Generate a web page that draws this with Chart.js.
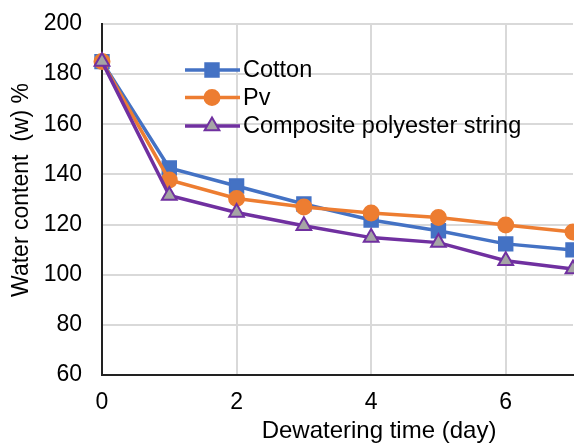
<!DOCTYPE html>
<html><head><meta charset="utf-8">
<script src="https://cdn.jsdelivr.net/npm/chart.js@4.4.0/dist/chart.umd.min.js"></script>
<style>html,body{margin:0;padding:0;background:#fff;}#wrap{width:574px;height:443px;}</style>
</head><body><div id="wrap"><canvas id="c" width="574" height="443"></canvas></div>
<script>
const days = [0, 1, 2, 3, 4, 5, 6, 7];
const cotton = [185, 142.6, 135.4, 128.2, 121.8, 117.5, 112.3, 109.9];
const pv = [185, 137.8, 130.4, 127, 124.6, 122.8, 119.8, 117];
const composite = [185, 131.6, 124.8, 119.5, 114.8, 112.8, 105.6, 102.3];
const seriesNames = ['Cotton', 'Pv', 'Composite polyester string'];
const yTicks = [60, 80, 100, 120, 140, 160, 180, 200];
const xTicks = [0, 2, 4, 6];
const xTitle = 'Dewatering time (day)';
const yTitle = 'Water content  (w) %';

const FONT = "'Liberation Sans', Arial, sans-serif";
const colors = [
  {line:'#4472C4', fill:'#4472C4', style:'rect', r: 9.5},
  {line:'#ED7D31', fill:'#ED7D31', style:'circle', r: 7.5},
  {line:'#7030A0', fill:'#A5A5A5', style:'triangle', r: 8.5}
];
const seriesData = [cotton, pv, composite];

const overlayPlugin = {
  id: 'overlay',
  afterDraw(chart) {
    const ctx = chart.ctx;
    const x0 = 185, x1 = 240, tx = 243;
    const ys = [70, 97.5, 126];
    ctx.save();
    seriesNames.forEach((name, i) => {
      const c = colors[i];
      const y = ys[i];
      ctx.strokeStyle = c.line; ctx.lineWidth = 3.5;
      ctx.beginPath(); ctx.moveTo(x0, y); ctx.lineTo(x1, y); ctx.stroke();
      const cx = 212;
      ctx.fillStyle = c.fill; ctx.strokeStyle = c.line; ctx.lineWidth = 2;
      Chart.helpers.drawPoint(ctx, {pointStyle: c.style, radius: c.r, borderWidth: 2}, cx, y);
      ctx.fillStyle = '#000'; ctx.font = '23.5px ' + FONT;
      ctx.textBaseline = 'middle'; ctx.textAlign = 'left';
      ctx.fillText(name, tx, y + 1);
    });
    // axis titles
    ctx.fillStyle = '#000';
    ctx.font = '24px ' + FONT;
    ctx.textAlign = 'center'; ctx.textBaseline = 'middle';
    ctx.fillText(xTitle, 379, 431);
    ctx.translate(22, 190);
    ctx.rotate(-Math.PI / 2);
    ctx.font = '23px ' + FONT;
    ctx.fillText(yTitle, 0, 0);
    ctx.restore();
  }
};

new Chart(document.getElementById('c'), {
  type: 'line',
  data: {
    datasets: seriesData.map((d, i) => ({
      label: seriesNames[i],
      data: days.map((x, j) => ({x: x, y: d[j]})),
      borderColor: colors[i].line,
      backgroundColor: colors[i].fill,
      pointBackgroundColor: colors[i].fill,
      pointBorderColor: colors[i].line,
      pointStyle: colors[i].style,
      pointRadius: colors[i].r,
      pointBorderWidth: 2,
      borderWidth: 3.5,
      tension: 0,
      clip: false,
      order: 3 - i
    }))
  },
  options: {
    responsive: false,
    animation: false,
    devicePixelRatio: 1,
    layout: {autoPadding: false, padding: {top: 24, right: 1, left: 0, bottom: 0}},
    plugins: {legend: {display: false}, tooltip: {enabled: false}},
    scales: {
      x: {
        type: 'linear', min: 0, max: 7,
        afterBuildTicks(s) { s.ticks = xTicks.map(v => ({value: v})); },
        afterFit(s) { s.height = 68; s.paddingLeft = 0; s.paddingRight = 0; },
        grid: {color: '#d9d9d9', lineWidth: 2, drawTicks: false},
        border: {color: '#222', width: 2},
        ticks: {color: '#000', font: {family: FONT, size: 23}, padding: 14, maxRotation: 0},
        title: {display: false}
      },
      y: {
        type: 'linear', min: 60, max: 200,
        afterBuildTicks(s) { s.ticks = yTicks.map(v => ({value: v})); },
        afterFit(s) { s.width = 102; s.paddingTop = 0; s.paddingBottom = 0; },
        grid: {color: '#d9d9d9', lineWidth: 2, drawTicks: false},
        border: {color: '#222', width: 2},
        ticks: {color: '#000', font: {family: FONT, size: 23}, padding: 20},
        title: {display: false}
      }
    }
  },
  plugins: [overlayPlugin]
});
</script></body></html>
